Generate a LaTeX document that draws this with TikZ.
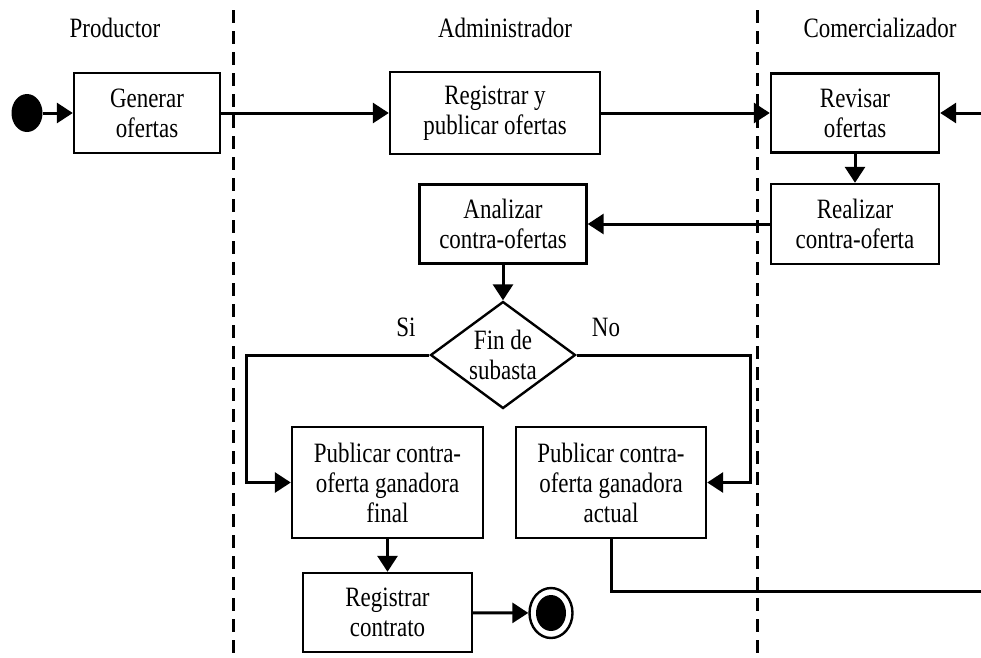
\documentclass[tikz,border=0pt]{standalone}
\usepackage{fontspec}
\setmainfont{Liberation Serif}[FakeStretch=0.82]
\usetikzlibrary{shapes.geometric,arrows.meta}
\begin{document}
\begin{tikzpicture}[x=1pt,y=-1pt,
  font=\fontsize{28}{30}\selectfont,
  act/.style={draw,line width=2.4pt,align=center,inner sep=0pt},
  arr/.style={line width=3pt,-{Triangle[length=16pt,width=20pt]}},
  conn/.style={line width=3pt},
  lane/.style={line width=3pt,dash pattern=on 13pt off 8pt}]
\useasboundingbox (0,0) rectangle (981,657);
% swimlane separators
\draw[lane] (233,10) -- (233,657);
\draw[lane] (757,10) -- (757,657);
% lane headers
\node (hp) at (115,28) {Productor};
\node (ha) at (505,28) {Administrador};
\node (hc) at (880,28) {Comercializador};
% activities
\node[ellipse,fill=black,minimum width=31pt,minimum height=38pt,inner sep=0pt] (start) at (27,113) {};
\node[act,minimum width=146pt,minimum height=80pt] (gen) at (147,113) {Generar\\ofertas};
\node[act,minimum width=210pt,minimum height=82pt] (reg) at (495,113) {Registrar y\\publicar ofertas};
\node[act,minimum width=168pt,minimum height=79pt] (rev) at (855,113) {Revisar\\ofertas};
\node[act,minimum width=168pt,minimum height=80pt] (real) at (855,224) {Realizar\\contra-oferta};
\node[act,minimum width=167pt,minimum height=79pt] (ana) at (503,224) {Analizar\\contra-ofertas};
\node[diamond,draw,line width=2.4pt,aspect=1.355,minimum width=145pt,minimum height=107pt,inner sep=0pt,align=center] (dia) at (503,355) {Fin de\\subasta};
\node (si) at (406,327) {Si};
\node (no) at (606,327) {No};
\node[act,minimum width=191pt,minimum height=111pt] (pfin) at (387.5,482.5) {Publicar contra-\\oferta ganadora\\final};
\node[act,minimum width=190pt,minimum height=111pt] (pact) at (611,482.5) {Publicar contra-\\oferta ganadora\\actual};
\node[act,minimum width=169pt,minimum height=79pt] (con) at (387.5,612.5) {Registrar\\contrato};
\node[ellipse,draw,line width=2.4pt,minimum width=43pt,minimum height=50pt,inner sep=0pt] (endo) at (551,613) {};
\node[ellipse,fill=black,minimum width=30pt,minimum height=36pt,inner sep=0pt] (endi) at (endo) {};
% bend points and free ends
\coordinate (cs) at (246,355);
\coordinate (cn) at (750,355);
\coordinate (rin) at (981,113);
\coordinate (rout) at (981,591);
% control flow
\draw[arr] (start) -- (gen);
\draw[arr] (gen) -- (reg);
\draw[arr] (reg) -- (rev);
\draw[arr] (rin) -- (rev);
\draw[arr] (rev) -- (real);
\draw[arr] (real) -- (ana);
\draw[arr] (ana) -- (dia);
\draw[arr] (dia.west) -- (cs) |- (pfin.west);
\draw[arr] (dia.east) -- (cn) |- (pact.east);
\draw[arr] (pfin) -- (con);
\draw[arr] (con) -- (endo);
\draw[conn] (pact.south) |- (rout);
\end{tikzpicture}
\end{document}
